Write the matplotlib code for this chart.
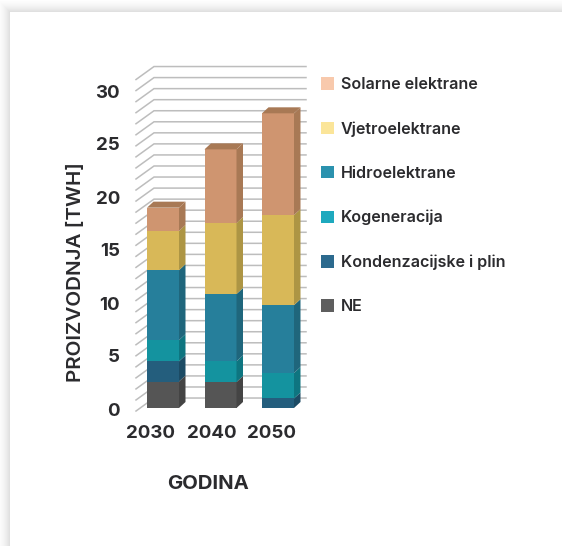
import matplotlib
matplotlib.use("Agg")
import matplotlib.pyplot as plt
from matplotlib.patches import Patch, Rectangle
from matplotlib.transforms import ScaledTranslation
import numpy as np

# Podaci (TWh)
godine = ["2030", "2040", "2050"]
izvori = ["NE", "Kondenzacijske i plin", "Kogeneracija", "Hidroelektrane", "Vjetroelektrane", "Solarne elektrane"]
ne = [2.5, 2.45, 0.0]
kondenzacijske = [1.9, 0.0, 0.9]
kogeneracija = [2.0, 1.95, 2.4]
hidro = [6.6, 6.35, 6.4]
vjetro = [3.7, 6.7, 8.5]
solar = [2.2, 6.95, 9.6]
osi_y = [0, 5, 10, 15, 20, 25, 30]

serije = [ne, kondenzacijske, kogeneracija, hidro, vjetro, solar]
boje_prednja = ["#555555", "#245E7D", "#14939F", "#267F9B", "#D8B858", "#CF9570"]
boje_bocna = ["#444444", "#1C4B64", "#0E7580", "#1F667C", "#AD9544", "#A87955"]
boje_legenda = ["#5E5E5E", "#2C6A8E", "#1EA9BE", "#2B92AE", "#FBE599", "#F8C9AC"]

W, H = 562, 546
plt.rcParams["font.family"] = ["Inter", "DejaVu Sans"]
tekst = "#2B2B2E"

fig = plt.figure(figsize=(W / 100, H / 100), dpi=100)

# sjena kartice
bg = fig.add_axes([0, 0, 1, 1], zorder=0)
bg.set_xlim(0, W)
bg.set_ylim(H, 0)
bg.axis("off")
for k in range(14, 0, -1):
    siva = 1 - 0.14 * (1 - k / 15) ** 2
    bg.add_patch(Rectangle((10 - k, 12 - k), W + 20, H + 20, fc=str(siva), ec="none"))
bg.add_patch(Rectangle((10, 12), W, H, fc="white", ec="none"))

# os u pikselima: y=0 na 408 px, 10.6 px po TWh, 57.5 px po kategoriji
lijevo, desno, gore, dolje = 125, 310, 60, 416
ax = fig.add_axes([lijevo / W, 1 - dolje / H, (desno - lijevo) / W, (dolje - gore) / H], zorder=1)
ax.patch.set_alpha(0)
ax.set_xlim((lijevo - 163) / 57.5, (desno - 163) / 57.5)
ax.set_ylim((408 - dolje) / 10.6, (408 - gore) / 10.6)
for s in ax.spines.values():
    s.set_visible(False)

# mreza na zadnjem zidu i lijevoj strani
x0 = (136 - 163) / 57.5
x1 = (154 - 163) / 57.5
x2 = (306 - 163) / 57.5
korak = 11.05 / 10.6
dno_zid = 0.94
pomak_zid = 13 / 10.6
for i in range(31):
    y = dno_zid + i * korak
    ax.plot([x0, x1, x2], [y - pomak_zid, y, y], color="#BDBDBD", lw=1.1, zorder=1, solid_joinstyle="miter")

# stupci: prednja strana je bar, bocna i gornja su poligoni
x = np.arange(3)
sirina = 32 / 57.5
dx = 6.5 / 57.5
dy = 6 / 10.6
dno = np.zeros(3)
for n, vrijednosti in enumerate(serije):
    v = np.array(vrijednosti)
    ax.bar(x, v, sirina, bottom=dno, color=boje_prednja[n], edgecolor="none", zorder=3 + n)
    for j in x:
        if v[j] == 0:
            continue
        xd = j + sirina / 2
        ax.fill([xd, xd + dx, xd + dx, xd],
                [dno[j], dno[j] + dy, dno[j] + v[j] + dy, dno[j] + v[j]],
                color=boje_bocna[n], lw=0, zorder=3 + n)
    dno = dno + v

for j in x:
    xl = j - sirina / 2
    xd = j + sirina / 2
    ax.fill([xl, xd, xd + dx, xl + dx], [dno[j], dno[j], dno[j] + dy, dno[j] + dy],
            color=boje_bocna[-1], lw=0, zorder=10)

ax.set_yticks(osi_y)
ax.set_yticklabels([str(t) for t in osi_y], fontsize=13.5, fontweight=700, color=tekst)
ax.tick_params(axis="y", length=0, pad=3.5)
for oznaka in ax.get_yticklabels():
    oznaka.set_transform(oznaka.get_transform() + ScaledTranslation(0, -1 / 100, fig.dpi_scale_trans))

polozaji_x = [(150.5 - 163) / 57.5, (212 - 163) / 57.5, (272 - 163) / 57.5]
ax.set_xticks(polozaji_x)
ax.set_xticklabels(godine, fontsize=13.5, fontweight=700, color=tekst)
ax.tick_params(axis="x", length=0, pad=6.2)

fig.text(208 / W, 1 - 484 / H, "GODINA", ha="center", va="center", fontsize=14.6, fontweight=700, color=tekst)
fig.text(75.5 / W, 1 - 272 / H, "PROIZVODNJA [TWH]", ha="center", va="center", rotation=90,
         fontsize=14.8, fontweight=600, color=tekst)

# legenda
rucke = [Patch(fc=boje_legenda[n], ec="none", label=izvori[n]) for n in range(5, -1, -1)]
leg = fig.legend(handles=rucke, loc="upper left", bbox_to_anchor=(321 / W, 1 - 77 / H), bbox_transform=fig.transFigure,
                 frameon=False, borderaxespad=0, borderpad=0, labelspacing=1.81,
                 handlelength=0.81, handleheight=0.81, handletextpad=0.43, labelcolor=tekst,
                 prop={"weight": 600, "size": 11.6})

fig.savefig("out.png", dpi=100)
